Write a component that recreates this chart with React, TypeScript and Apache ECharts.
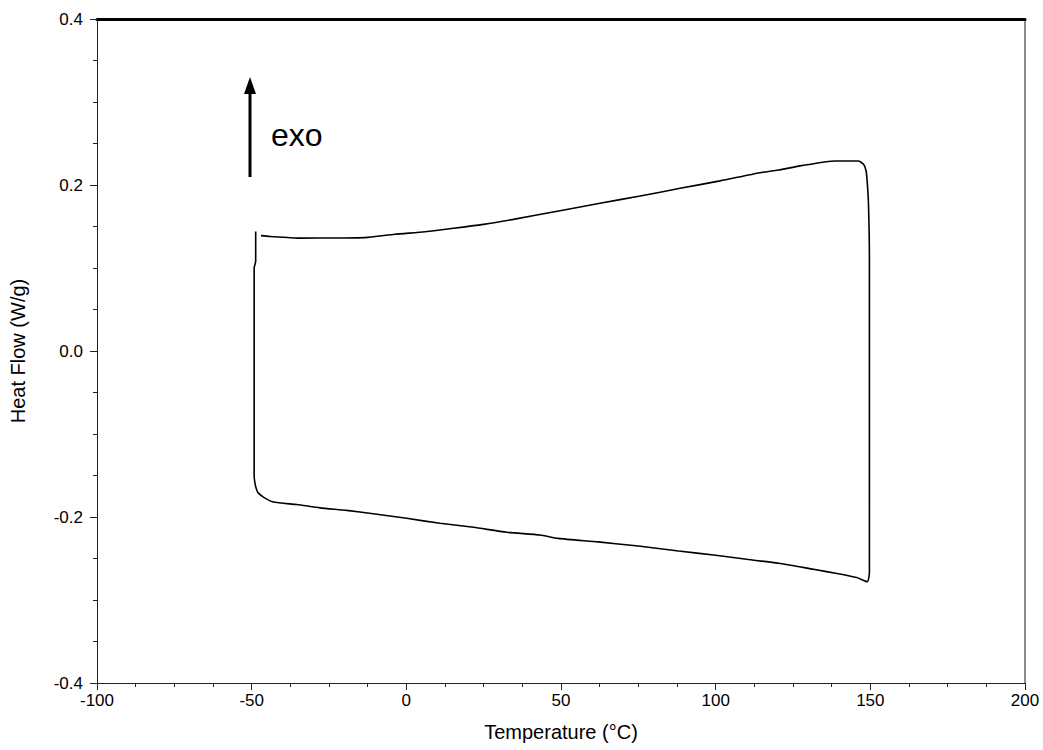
import React, { useEffect, useRef } from "react";
import * as echarts from "echarts";

// Temperature (°C) along the loop, in drawing order
const tempC: number[] = [
  -48.7, -48.7, -49.2, -49.2, -48.8, -48.3, -47.9, -46.2, -43.0, -35.4, -27.9, -19.3,
  -10.7, 0.1, 10.9, 21.7, 32.5, 43.2, 49.1, 62, 75, 88, 100, 110, 120.9, 131.6, 139.2,
  145.6, 149.0, 149.7, 149.7, 149.4, 149.0, 148.6, 147.8, 146.1, 138.6, 127.3, 120.3,
  114.3, 101.4, 88.5, 75.6, 62.6, 49.7, 34.6, 24.9, 15.2, 6.0, -3.7, -13.4, -22, -34.4,
  -44.1, -47,
];
// Heat flow (W/g) matching tempC
const heatFlow: number[] = [
  0.144, 0.108, 0.1, -0.15, -0.162, -0.168, -0.171, -0.176, -0.182, -0.185, -0.189, -0.192,
  -0.196, -0.2016, -0.2076, -0.2124, -0.2184, -0.2217, -0.2257, -0.23, -0.235, -0.241,
  -0.246, -0.251, -0.256, -0.263, -0.268, -0.273, -0.278, -0.267, 0.1136, 0.177, 0.2035,
  0.2175, 0.225, 0.229, 0.229, 0.223, 0.218, 0.2148, 0.205, 0.196, 0.1867, 0.178, 0.169,
  0.1586, 0.1526, 0.1478, 0.1437, 0.1406, 0.1366, 0.1362, 0.136, 0.138, 0.139,
];

const xTicks = { min: -100, max: 200, interval: 50 };
const yTicks = { min: -0.4, max: 0.4, interval: 0.2 };

const FONT = "'Liberation Sans', Arial, sans-serif";

export default function App() {
  const ref = useRef<HTMLDivElement>(null);
  useEffect(() => {
    if (!ref.current) return;
    const chart = echarts.init(ref.current, null, { renderer: "svg" });
    const data = tempC.map((t, i) => [t, heatFlow[i]]);
    const axisLabel = { color: "#000", fontSize: 17, fontFamily: FONT };
    chart.setOption({
      animation: false,
      backgroundColor: "#fff",
      grid: { left: 97, right: 18, top: 19, bottom: 67 },
      xAxis: [
        {
          type: "value",
          min: xTicks.min,
          max: xTicks.max,
          interval: xTicks.interval,
          name: "Temperature (°C)",
          nameLocation: "middle",
          nameGap: 39,
          nameTextStyle: { color: "#000", fontSize: 20, fontFamily: FONT },
          axisLine: { show: true, onZero: false, lineStyle: { color: "#222", width: 1 } },
          axisTick: { show: true, inside: false, length: 7, lineStyle: { color: "#222" } },
          minorTick: { show: true, splitNumber: 4, length: 4, lineStyle: { color: "#222" } },
          axisLabel: { ...axisLabel, margin: 9, formatter: (v: number) => String(v) },
          splitLine: { show: false },
        },
        {
          type: "value",
          position: "top",
          min: xTicks.min,
          max: xTicks.max,
          axisLine: { show: true, onZero: false, lineStyle: { color: "#000", width: 3 } },
          axisTick: { show: false },
          axisLabel: { show: false },
          splitLine: { show: false },
        },
      ],
      yAxis: [
        {
          type: "value",
          min: yTicks.min,
          max: yTicks.max,
          interval: yTicks.interval,
          name: "Heat Flow (W/g)",
          nameLocation: "middle",
          nameGap: 69,
          nameTextStyle: { color: "#000", fontSize: 20, fontFamily: FONT },
          axisLine: { show: true, onZero: false, lineStyle: { color: "#222", width: 1 } },
          axisTick: { show: true, inside: false, length: 7, lineStyle: { color: "#222" } },
          minorTick: { show: true, splitNumber: 4, length: 4, lineStyle: { color: "#222" } },
          axisLabel: { ...axisLabel, margin: 14, formatter: (v: number) => v.toFixed(1) },
          splitLine: { show: false },
        },
        {
          type: "value",
          position: "right",
          min: yTicks.min,
          max: yTicks.max,
          axisLine: { show: true, onZero: false, lineStyle: { color: "#666", width: 1.5 } },
          axisTick: { show: false },
          axisLabel: { show: false },
          splitLine: { show: false },
        },
      ],
      series: [
        {
          type: "line",
          data,
          showSymbol: false,
          symbol: "none",
          smooth: 0.2,
          lineStyle: { color: "#000", width: 1.6 },
          xAxisIndex: 0,
          yAxisIndex: 0,
        },
      ],
      graphic: [
        {
          type: "line",
          shape: { x1: 250, y1: 177, x2: 250, y2: 92 },
          style: { stroke: "#000", lineWidth: 3 },
        },
        {
          type: "polygon",
          shape: { points: [[250, 77], [244, 94], [256, 94]] },
          style: { fill: "#000" },
        },
        {
          type: "text",
          x: 271,
          y: 135,
          style: {
            text: "exo",
            fontSize: 32,
            fontFamily: FONT,
            fill: "#000",
            verticalAlign: "middle",
            align: "left",
          },
        },
      ],
    });
    return () => chart.dispose();
  }, []);
  return (
    <div
      ref={ref}
      style={{ position: "fixed", left: 0, top: 0, width: 1043, height: 750 }}
    />
  );
}
